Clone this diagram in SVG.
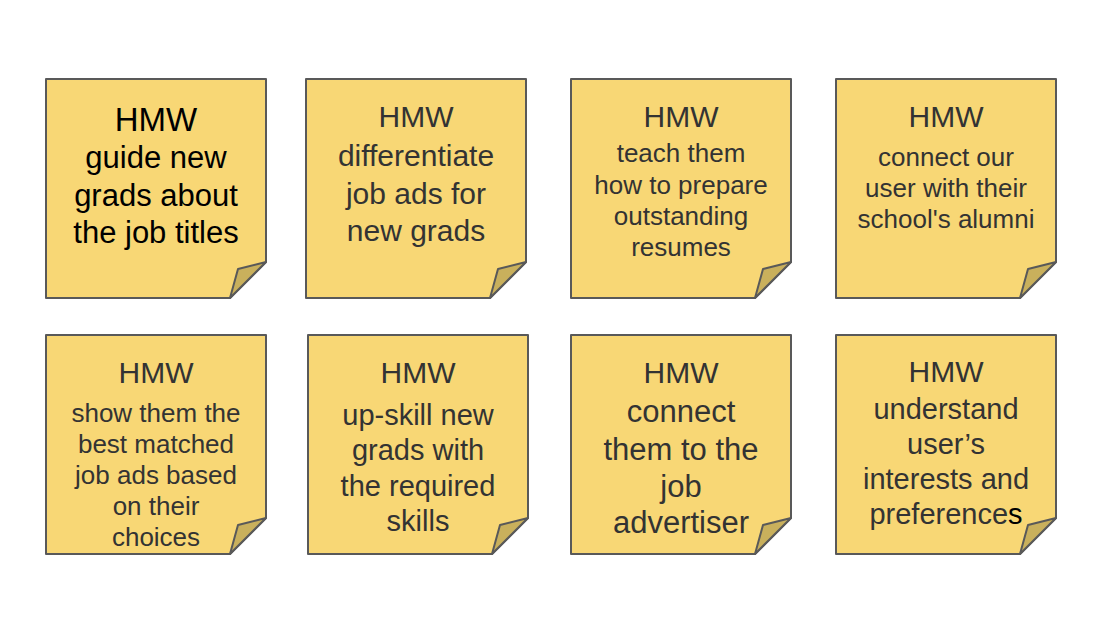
<svg xmlns="http://www.w3.org/2000/svg" width="1106" height="630" viewBox="0 0 1106 630">
<style>
.note{fill:#f8d775;stroke:#595959;stroke-width:2;stroke-linejoin:round}
.fold{fill:#c9b05c;stroke:#595959;stroke-width:2;stroke-linejoin:round}
text{font-family:"Liberation Sans",Arial,sans-serif;text-anchor:middle;fill:#333333}
.k{fill:#000000}
</style>
<defs>
<path id="sheet" class="note" d="M0,0 H220 V183 L184,219 H0 Z"/>
<path id="flap" class="fold" d="M184,219 L192,190 L220,183 Z"/>
</defs>
<rect width="1106" height="630" fill="#ffffff"/>
<g id="connectors"/>
<g id="note1">
<use href="#sheet" x="46" y="79"/><use href="#flap" x="46" y="79"/>
<text font-size="33" class="k" x="156" y="131">HMW</text>
<text font-size="31" class="k" x="156"><tspan x="156" y="168">guide new</tspan><tspan x="156" y="205.5">grads about</tspan><tspan x="156" y="243">the job titles</tspan></text>
</g>
<g id="note2">
<use href="#sheet" x="306" y="79"/><use href="#flap" x="306" y="79"/>
<text font-size="30" x="416" y="127">HMW</text>
<text font-size="30" x="416"><tspan x="416" y="166">differentiate</tspan><tspan x="416" y="203.5">job ads for</tspan><tspan x="416" y="241">new grads</tspan></text>
</g>
<g id="note3">
<use href="#sheet" x="571" y="79"/><use href="#flap" x="571" y="79"/>
<text font-size="30" x="681" y="127">HMW</text>
<text font-size="26" x="681"><tspan x="681" y="162">teach them</tspan><tspan x="681" y="193.5">how to prepare</tspan><tspan x="681" y="224.5">outstanding</tspan><tspan x="681" y="255.5">resumes</tspan></text>
</g>
<g id="note4">
<use href="#sheet" x="836" y="79"/><use href="#flap" x="836" y="79"/>
<text font-size="30" x="946" y="127">HMW</text>
<text font-size="26" x="946"><tspan x="946" y="166">connect our</tspan><tspan x="946" y="197">user with their</tspan><tspan x="946" y="228">school's alumni</tspan></text>
</g>
<g id="note5">
<use href="#sheet" x="46" y="335"/><use href="#flap" x="46" y="335"/>
<text font-size="30" x="156" y="383">HMW</text>
<text font-size="26" x="156"><tspan x="156" y="421.5">show them the</tspan><tspan x="156" y="452.5">best matched</tspan><tspan x="156" y="483.5">job ads based</tspan><tspan x="156" y="514.5">on their</tspan><tspan x="156" y="546">choices</tspan></text>
</g>
<g id="note6">
<use href="#sheet" x="308" y="335"/><use href="#flap" x="308" y="335"/>
<text font-size="30" x="418" y="383">HMW</text>
<text font-size="29" x="418"><tspan x="418" y="424.5">up-skill new</tspan><tspan x="418" y="460">grads with</tspan><tspan x="418" y="495.5">the required</tspan><tspan x="418" y="530.5">skills</tspan></text>
</g>
<g id="note7">
<use href="#sheet" x="571" y="335"/><use href="#flap" x="571" y="335"/>
<text font-size="30" x="681" y="383">HMW</text>
<text font-size="31" x="681"><tspan x="681" y="422">connect</tspan><tspan x="681" y="460">them to the</tspan><tspan x="681" y="497">job</tspan><tspan x="681" y="533">advertiser</tspan></text>
</g>
<g id="note8">
<use href="#sheet" x="836" y="335"/><use href="#flap" x="836" y="335"/>
<text font-size="30" x="946" y="382">HMW</text>
<text font-size="29" x="946"><tspan x="946" y="418.5">understand</tspan><tspan x="946" y="453.5">user’s</tspan><tspan x="946" y="489">interests and</tspan><tspan x="946" y="524">preference<tspan class="k">s</tspan></tspan></text>
</g>
</svg>
